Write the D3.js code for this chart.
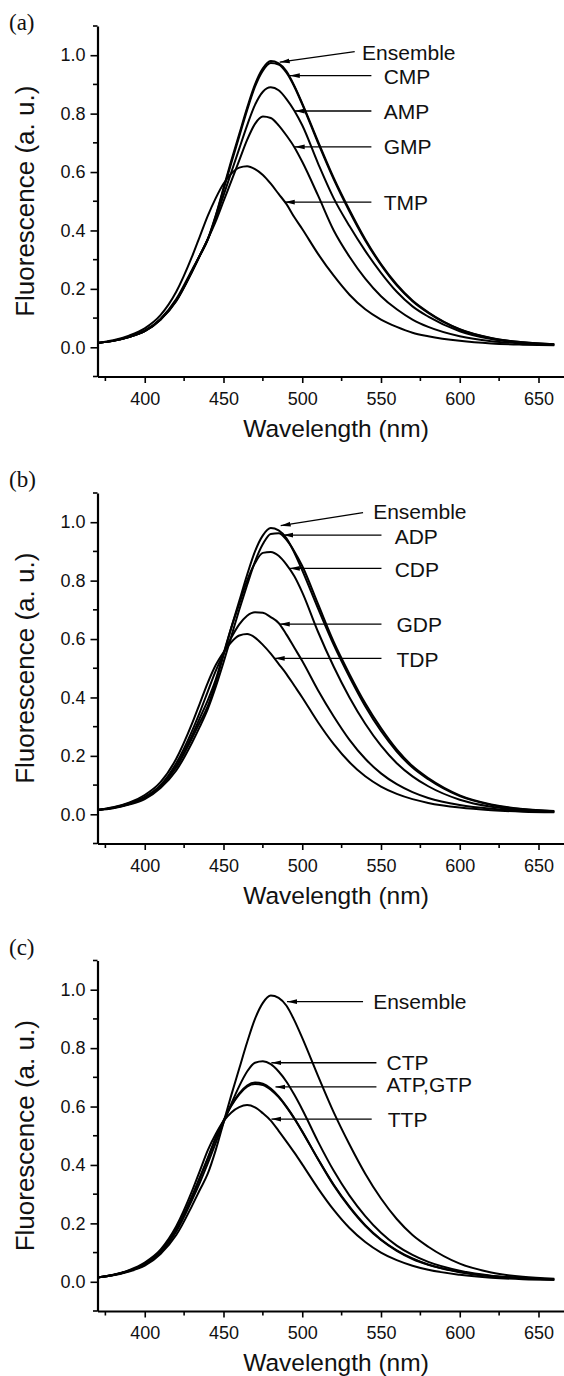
<!DOCTYPE html>
<html><head><meta charset="utf-8">
<script src="https://cdn.jsdelivr.net/npm/d3@7"></script>
<style>
html,body{margin:0;padding:0;background:#fff;}
svg{display:block;}
</style></head>
<body>
<script>
// ---------- DATA ----------
const wavelength = [370,380,390,400,410,420,430,435,440,445,450,455,460,465,470,475,480,485,490,495,500,510,520,530,540,550,560,570,580,600,620,640,660];

const ensemble = [0.015,0.022,0.035,0.055,0.095,0.16,0.26,0.315,0.37,0.45,0.545,0.64,0.73,0.82,0.9,0.955,0.98,0.972,0.945,0.895,0.835,0.705,0.58,0.47,0.37,0.285,0.215,0.16,0.12,0.062,0.032,0.017,0.01];

// panel (a)
const cmp = [0.015,0.022,0.035,0.055,0.094,0.158,0.258,0.313,0.368,0.448,0.54,0.632,0.722,0.812,0.892,0.947,0.973,0.968,0.94,0.892,0.832,0.7,0.575,0.465,0.366,0.282,0.212,0.158,0.118,0.061,0.031,0.017,0.01];
const amp = [0.015,0.022,0.035,0.055,0.095,0.16,0.26,0.315,0.37,0.44,0.52,0.6,0.68,0.76,0.83,0.875,0.89,0.88,0.85,0.81,0.76,0.63,0.51,0.415,0.33,0.255,0.19,0.14,0.105,0.055,0.028,0.015,0.009];
const gmp = [0.015,0.022,0.036,0.057,0.097,0.165,0.265,0.315,0.37,0.43,0.5,0.57,0.64,0.71,0.765,0.79,0.785,0.76,0.725,0.685,0.635,0.52,0.4,0.31,0.235,0.175,0.13,0.095,0.07,0.038,0.021,0.013,0.008];
const tmp = [0.015,0.024,0.04,0.065,0.11,0.19,0.31,0.38,0.45,0.51,0.56,0.595,0.615,0.62,0.61,0.59,0.56,0.525,0.49,0.445,0.405,0.32,0.245,0.18,0.13,0.095,0.07,0.05,0.038,0.022,0.013,0.009,0.007];

// panel (b)
const adp = [0.015,0.021,0.033,0.052,0.09,0.15,0.245,0.3,0.36,0.435,0.52,0.61,0.7,0.785,0.865,0.925,0.96,0.962,0.94,0.9,0.85,0.72,0.59,0.48,0.38,0.295,0.222,0.165,0.124,0.065,0.034,0.018,0.011];
const cdp = [0.015,0.022,0.035,0.056,0.096,0.165,0.27,0.33,0.39,0.46,0.55,0.64,0.72,0.8,0.86,0.895,0.898,0.885,0.855,0.815,0.76,0.625,0.505,0.4,0.31,0.235,0.175,0.13,0.096,0.05,0.026,0.015,0.009];
const gdp = [0.015,0.023,0.038,0.06,0.1,0.175,0.285,0.35,0.42,0.49,0.55,0.605,0.65,0.68,0.692,0.69,0.675,0.655,0.615,0.57,0.525,0.425,0.335,0.255,0.19,0.14,0.103,0.076,0.056,0.032,0.019,0.012,0.008];
const tdp = [0.015,0.024,0.04,0.066,0.11,0.19,0.31,0.38,0.45,0.51,0.555,0.59,0.612,0.617,0.605,0.58,0.55,0.515,0.48,0.44,0.4,0.315,0.24,0.178,0.13,0.095,0.07,0.052,0.039,0.023,0.014,0.009,0.007];

// panel (c)
const ctp = [0.015,0.023,0.037,0.059,0.1,0.172,0.28,0.34,0.405,0.475,0.545,0.61,0.67,0.72,0.75,0.755,0.745,0.72,0.685,0.64,0.59,0.48,0.38,0.295,0.225,0.168,0.124,0.092,0.068,0.038,0.021,0.013,0.008];
const atp = [0.015,0.023,0.038,0.06,0.102,0.178,0.29,0.355,0.42,0.49,0.55,0.605,0.645,0.672,0.682,0.678,0.662,0.635,0.6,0.56,0.515,0.42,0.33,0.255,0.192,0.143,0.106,0.078,0.058,0.033,0.019,0.012,0.008];
const gtp = [0.015,0.023,0.038,0.061,0.104,0.18,0.293,0.358,0.424,0.493,0.552,0.603,0.642,0.668,0.677,0.674,0.658,0.632,0.598,0.558,0.514,0.42,0.332,0.257,0.194,0.145,0.108,0.08,0.059,0.034,0.02,0.012,0.008];
const ttp = [0.015,0.024,0.04,0.066,0.11,0.19,0.31,0.38,0.45,0.505,0.55,0.58,0.598,0.605,0.597,0.577,0.552,0.517,0.48,0.442,0.402,0.32,0.246,0.184,0.136,0.1,0.074,0.055,0.041,0.024,0.014,0.009,0.007];

// tick labels
const xTicks = [400,450,500,550,600,650];
const xMinor = [375,425,475,525,575,625];
const yTicks = [0.0,0.2,0.4,0.6,0.8,1.0];
const yMinor = [-0.1,0.1,0.3,0.5,0.7,0.9,1.1];

// annotations (data units: wavelength / fluorescence)
const notesA = [
  {t:"Ensemble", tx:538, ty:1.008, sx:533.3, sy:1.012, ex:485.7, ey:0.976},
  {t:"CMP", tx:551.7, ty:0.929, sx:543.9, sy:0.93, ex:492.1, ey:0.93},
  {t:"AMP", tx:551.7, ty:0.809, sx:543.9, sy:0.809, ex:495.2, ey:0.809},
  {t:"GMP", tx:551.7, ty:0.686, sx:543.9, sy:0.686, ex:495.2, ey:0.686},
  {t:"TMP", tx:551.7, ty:0.497, sx:543.9, sy:0.497, ex:488.9, ey:0.497}
];
const notesB = [
  {t:"Ensemble", tx:545, ty:1.036, sx:538.6, sy:1.033, ex:486.3, ey:0.988},
  {t:"ADP", tx:558.7, ty:0.95, sx:550.3, sy:0.956, ex:487.8, ey:0.956},
  {t:"CDP", tx:558.7, ty:0.839, sx:550.3, sy:0.842, ex:492.1, ey:0.842},
  {t:"GDP", tx:559.8, ty:0.651, sx:550.3, sy:0.651, ex:485.7, ey:0.651},
  {t:"TDP", tx:559.8, ty:0.531, sx:550.3, sy:0.534, ex:482.5, ey:0.534}
];
const notesC = [
  {t:"Ensemble", tx:545, ty:0.959, sx:538.6, sy:0.959, ex:490.3, ey:0.959},
  {t:"CTP", tx:553.5, ty:0.75, sx:547.1, sy:0.75, ex:480.4, ey:0.75},
  {t:"ATP,GTP", tx:553.5, ty:0.674, sx:547.1, sy:0.667, ex:483, ey:0.667},
  {t:"TTP", tx:554.3, ty:0.557, sx:544.1, sy:0.557, ex:480.4, ey:0.557}
];

const panels = [
  {label:"(a)", top:26, bottom:376.5, series:[tmp,gmp,amp,cmp,ensemble], notes:notesA},
  {label:"(b)", top:493, bottom:843.5, series:[tdp,gdp,cdp,adp,ensemble], notes:notesB},
  {label:"(c)", top:960.5, bottom:1311, series:[ttp,atp,gtp,ctp,ensemble], notes:notesC}
];

// ---------- DRAW ----------
const W = 564, H = 1376;
const svg = d3.select("body").append("svg").attr("width", W).attr("height", H)
  .style("font-family", "'Liberation Sans', Arial, Helvetica, sans-serif");
svg.append("rect").attr("width", W).attr("height", H).attr("fill", "#fff");

svg.append("defs").append("marker")
  .attr("id", "arr").attr("viewBox", "0 0 10 6").attr("refX", 10).attr("refY", 3)
  .attr("markerWidth", 10).attr("markerHeight", 6).attr("markerUnits", "userSpaceOnUse")
  .attr("orient", "auto")
  .append("path").attr("d", "M0,0.6 L10,3 L0,5.4 Z").attr("fill", "#000");

const x = d3.scaleLinear().domain([370, 670]).range([97.5, 570]);

panels.forEach(p => {
  const y = d3.scaleLinear().domain([-0.1, 1.1]).range([p.bottom, p.top]);
  const g = svg.append("g");

  // curves
  const line = d3.line().x((d, i) => x(wavelength[i])).y(d => y(d)).curve(d3.curveMonotoneX);
  p.series.forEach(s => {
    g.append("path").attr("d", line(s)).attr("fill", "none")
      .attr("stroke", "#000").attr("stroke-width", 2).attr("stroke-linejoin", "round");
  });

  // x axis
  const xa = g.append("g").attr("transform", `translate(0,${p.bottom})`)
    .call(d3.axisBottom(x).tickValues(xTicks).tickSize(6.5).tickPadding(9).tickSizeOuter(0).tickFormat(d3.format("d")));
  xa.select(".domain").attr("stroke-width", 2.2);
  xa.selectAll(".tick line").attr("stroke-width", 1.6);
  xa.selectAll("text").attr("font-size", 18).attr("fill", "#111");
  xa.append("g").selectAll("line").data(xMinor).join("line")
    .attr("x1", d => x(d)).attr("x2", d => x(d)).attr("y1", 0).attr("y2", 4.5)
    .attr("stroke", "#000").attr("stroke-width", 1.6);

  // y axis
  const ya = g.append("g").attr("transform", `translate(${x(370)},0)`)
    .call(d3.axisLeft(y).tickValues(yTicks).tickSize(7).tickPadding(5).tickSizeOuter(0).tickFormat(d3.format(".1f")));
  ya.select(".domain").attr("stroke-width", 2.2);
  ya.selectAll(".tick line").attr("stroke-width", 1.6);
  ya.selectAll("text").attr("font-size", 18).attr("fill", "#111");
  ya.append("g").selectAll("line").data(yMinor).join("line")
    .attr("x1", 0).attr("x2", -4.5).attr("y1", d => y(d)).attr("y2", d => y(d))
    .attr("stroke", "#000").attr("stroke-width", 1.6);

  // axis titles
  g.append("text").attr("x", 336).attr("y", p.bottom + 60).attr("text-anchor", "middle")
    .attr("font-size", 24.5).attr("fill", "#111").text("Wavelength (nm)");
  g.append("text").attr("transform", `translate(34,${(p.top + p.bottom) / 2}) rotate(-90)`)
    .attr("text-anchor", "middle").attr("font-size", 26).attr("fill", "#111").text("Fluorescence (a. u.)");

  // panel label
  g.append("text").attr("x", 9).attr("y", p.top + (p.label === "(a)" ? 4 : -6))
    .attr("font-family", "'Liberation Serif', 'Times New Roman', serif")
    .attr("font-size", 23).attr("fill", "#111").text(p.label);

  // annotations
  p.notes.forEach(n => {
    g.append("line").attr("x1", x(n.sx)).attr("y1", y(n.sy)).attr("x2", x(n.ex)).attr("y2", y(n.ey))
      .attr("stroke", "#000").attr("stroke-width", 1.3).attr("marker-end", "url(#arr)");
    g.append("text").attr("x", x(n.tx)).attr("y", y(n.ty)).attr("dy", "0.36em")
      .attr("font-size", 21).attr("fill", "#111").text(n.t);
  });
});
</script>
</body></html>
